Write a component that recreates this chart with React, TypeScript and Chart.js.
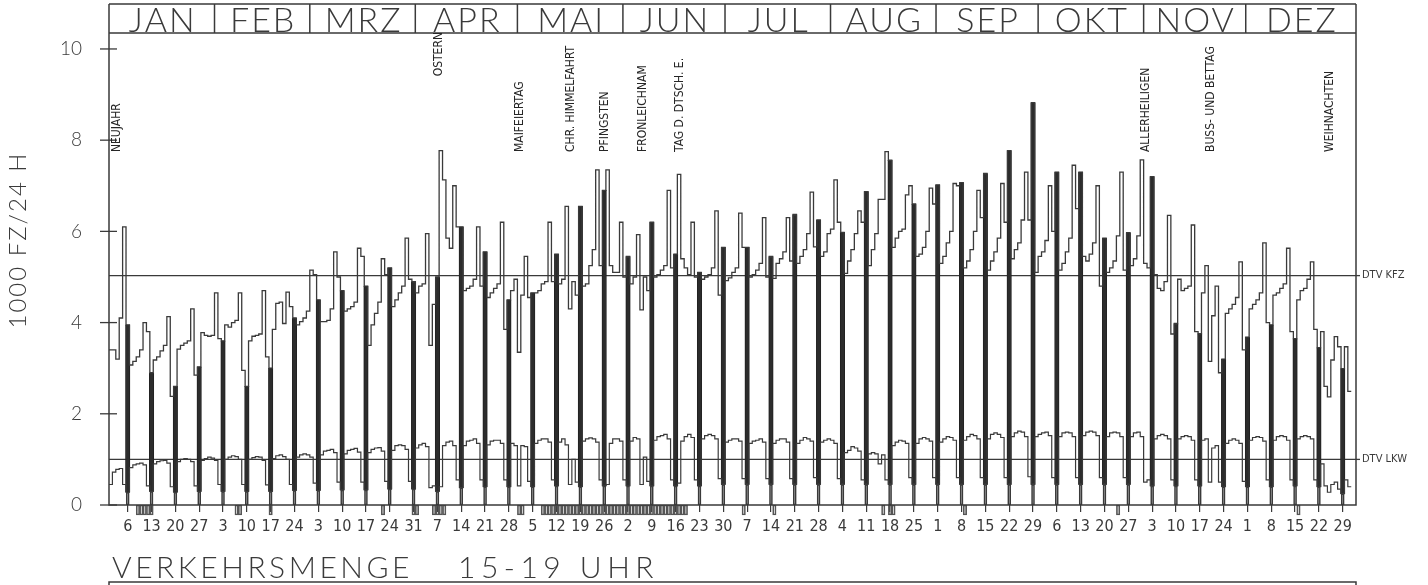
import React, { useEffect, useRef } from 'react';
import { Chart, registerables } from 'chart.js';

Chart.register(...registerables);

// ---------- calendar / labels ----------
const MONTHS = ['JAN', 'FEB', 'MRZ', 'APR', 'MAI', 'JUN', 'JUL', 'AUG', 'SEP', 'OKT', 'NOV', 'DEZ'];
const MONTH_DAYS = [31, 28, 31, 30, 31, 30, 31, 31, 30, 31, 30, 31];
const FIRST_SUNDAY = 5; // 6 Jan 1985, 0-based day index
const SUNDAY_LABELS = [
  '6', '13', '20', '27', '3', '10', '17', '24', '3', '10', '17', '24', '31',
  '7', '14', '21', '28', '5', '12', '19', '26', '2', '9', '16', '23', '30',
  '7', '14', '21', '28', '4', '11', '18', '25', '1', '8', '15', '22', '29',
  '6', '13', '20', '27', '3', '10', '17', '24', '1', '8', '15', '22', '29',
];
const Y_TICKS = [0, 2, 4, 6, 8, 10];
const Y_TITLE = '1000 FZ/24 H';
const TITLE_MAIN = 'VERKEHRSMENGE';
const TITLE_TIME = '15-19 UHR';

// ---------- daily values, 1000 vehicles (KFZ = all vehicles, LKW = trucks) ----------
const KFZ_JAN = [3.4, 3.4, 3.2, 4.1, 6.1, 3.95, 3.07, 3.15, 3.25, 3.4, 4.0, 3.8, 2.9, 3.18, 3.25, 3.38, 3.5, 4.13, 2.38, 2.6, 3.42, 3.5, 3.55, 3.6, 4.3, 2.85, 3.03, 3.78, 3.72, 3.7, 3.72];
const KFZ_FEB = [4.65, 3.65, 3.6, 3.95, 3.9, 4.0, 4.05, 4.65, 2.95, 2.6, 3.6, 3.7, 3.72, 3.75, 4.7, 3.25, 3.0, 3.85, 4.42, 4.45, 3.98, 4.67, 4.35, 4.1, 3.95, 4.02, 4.1, 4.25];
const KFZ_MRZ = [5.15, 5.05, 4.5, 4.02, 4.02, 4.05, 4.3, 5.55, 5.0, 4.7, 4.25, 4.3, 4.35, 4.45, 5.63, 5.45, 4.8, 3.5, 3.95, 4.2, 4.45, 5.4, 5.05, 5.2, 4.35, 4.5, 4.65, 4.8, 5.85, 4.95, 4.9];
const KFZ_APR = [4.65, 4.8, 4.85, 5.95, 3.5, 4.4, 5.0, 7.77, 7.13, 5.85, 5.63, 7.0, 6.1, 6.1, 4.7, 4.75, 4.8, 4.95, 6.1, 4.8, 5.55, 4.55, 4.65, 4.75, 4.85, 6.2, 3.85, 4.5, 4.7, 4.95];
const KFZ_MAI = [3.35, 4.6, 5.45, 4.55, 4.65, 4.65, 4.7, 4.85, 4.9, 6.2, 4.9, 5.5, 4.85, 4.95, 6.55, 4.3, 4.9, 4.6, 6.55, 4.8, 4.85, 5.25, 5.6, 7.35, 5.25, 6.9, 7.35, 5.25, 5.1, 5.1, 6.2];
const KFZ_JUN = [5.0, 5.45, 4.85, 5.0, 5.93, 4.28, 5.0, 4.7, 6.2, 5.0, 5.05, 5.15, 5.25, 6.9, 5.2, 5.5, 7.25, 5.4, 5.2, 5.05, 6.2, 5.0, 5.1, 4.95, 5.0, 5.05, 5.2, 6.45, 4.6, 5.65];
const KFZ_JUL = [4.92, 4.98, 5.1, 5.2, 6.4, 5.65, 5.65, 5.0, 5.05, 5.15, 5.3, 6.3, 5.0, 5.45, 4.97, 5.3, 5.4, 5.55, 6.3, 5.35, 6.37, 5.3, 5.45, 5.6, 5.95, 6.86, 5.66, 6.25, 5.45, 5.55, 5.95];
const KFZ_AUG = [6.05, 7.13, 6.2, 5.98, 5.08, 5.35, 5.6, 5.95, 6.45, 6.2, 6.87, 5.25, 5.6, 5.95, 6.7, 6.7, 7.75, 7.56, 5.65, 5.85, 6.0, 6.05, 6.8, 7.0, 6.6, 5.45, 5.5, 5.65, 6.0, 6.95, 6.6];
const KFZ_SEP = [7.02, 5.3, 5.45, 5.75, 6.0, 7.05, 7.0, 7.07, 5.2, 5.35, 5.6, 6.0, 6.9, 6.3, 7.27, 5.15, 5.35, 5.55, 5.85, 7.05, 6.2, 7.77, 5.4, 5.6, 5.75, 6.25, 7.3, 6.25, 8.82, 5.1];
const KFZ_OKT = [5.45, 5.55, 5.8, 7.0, 6.0, 7.3, 5.15, 5.3, 5.55, 5.85, 7.45, 6.5, 7.3, 5.45, 5.35, 5.5, 5.75, 7.0, 4.8, 5.85, 5.1, 5.2, 5.35, 5.9, 7.3, 5.15, 5.97, 5.25, 5.4, 5.9, 7.57];
const KFZ_NOV = [5.3, 5.2, 7.2, 5.05, 4.75, 4.7, 4.9, 6.35, 3.75, 3.98, 4.95, 4.7, 4.75, 4.8, 6.14, 3.8, 3.76, 4.65, 5.25, 3.15, 4.15, 4.8, 2.9, 3.2, 4.2, 4.3, 4.4, 4.55, 5.33, 3.4];
const KFZ_DEZ = [3.68, 4.3, 4.4, 4.5, 4.65, 5.75, 4.0, 3.95, 4.6, 4.65, 4.75, 4.85, 5.63, 3.8, 3.65, 4.5, 4.7, 4.75, 4.95, 5.33, 3.85, 3.45, 3.8, 2.6, 2.37, 3.18, 3.69, 3.47, 2.99, 3.47, 2.49];

const LKW_JAN = [0.45, 0.72, 0.78, 0.8, 0.45, 0.28, 0.82, 0.88, 0.9, 0.92, 0.88, 0.42, 0.3, 0.9, 0.95, 0.97, 0.98, 0.92, 0.4, 0.28, 0.95, 1.0, 1.02, 1.0, 0.95, 0.42, 0.3, 0.98, 1.02, 1.05, 1.03];
const LKW_FEB = [0.98, 0.45, 0.3, 1.0, 1.05, 1.08, 1.06, 1.0, 0.45, 0.3, 1.0, 1.04, 1.06, 1.05, 0.98, 0.44, 0.3, 1.02, 1.08, 1.1, 1.06, 1.0, 0.45, 0.32, 1.05, 1.1, 1.12, 1.1];
const LKW_MRZ = [1.05, 0.48, 0.32, 1.1, 1.18, 1.2, 1.22, 1.15, 0.5, 0.33, 1.12, 1.2, 1.22, 1.24, 1.16, 0.5, 0.33, 1.15, 1.22, 1.25, 1.26, 1.18, 0.52, 0.35, 1.2, 1.3, 1.32, 1.3, 1.22, 0.52, 0.35];
const LKW_APR = [1.25, 1.32, 1.35, 1.28, 0.38, 0.42, 0.3, 0.4, 1.3, 1.38, 1.4, 1.3, 0.55, 0.38, 1.3, 1.4, 1.42, 1.45, 1.35, 0.55, 0.4, 1.32, 1.4, 1.42, 1.42, 1.35, 0.55, 0.4, 1.35, 1.3];
const LKW_MAI = [0.42, 1.3, 1.28, 0.52, 0.4, 1.35, 1.42, 1.45, 1.45, 1.38, 0.55, 0.42, 1.38, 1.45, 1.32, 0.45, 1.0, 0.5, 0.4, 1.4, 1.45, 1.47, 1.45, 1.38, 0.55, 0.42, 0.45, 1.35, 1.45, 1.45, 1.4];
const LKW_JUN = [0.55, 0.42, 1.4, 1.48, 1.45, 0.45, 1.05, 0.52, 0.42, 1.42, 1.5, 1.52, 1.55, 1.45, 0.55, 0.42, 0.48, 1.4, 1.5, 1.55, 1.48, 0.55, 0.42, 1.45, 1.52, 1.55, 1.52, 1.45, 0.58, 0.45];
const LKW_JUL = [1.38, 1.42, 1.45, 1.45, 1.4, 0.58, 0.45, 1.35, 1.4, 1.42, 1.45, 1.38, 0.58, 0.45, 1.35, 1.42, 1.45, 1.45, 1.38, 0.58, 0.45, 1.35, 1.42, 1.48, 1.45, 1.4, 0.6, 0.45, 1.38, 1.42, 1.45];
const LKW_AUG = [1.42, 1.35, 0.58, 0.45, 1.15, 1.2, 1.28, 1.25, 1.18, 0.55, 0.45, 1.12, 1.15, 1.12, 0.9, 1.1, 0.55, 0.45, 1.3, 1.38, 1.42, 1.4, 1.35, 0.6, 0.45, 1.35, 1.45, 1.48, 1.45, 1.4, 0.6];
const LKW_SEP = [0.45, 1.38, 1.45, 1.5, 1.48, 1.42, 0.6, 0.45, 1.42, 1.5, 1.55, 1.52, 1.45, 0.6, 0.45, 1.45, 1.55, 1.58, 1.55, 1.48, 0.6, 0.45, 1.5, 1.58, 1.62, 1.6, 1.5, 0.62, 0.45, 1.5];
const LKW_OKT = [1.55, 1.58, 1.6, 1.52, 0.6, 0.45, 1.5, 1.58, 1.6, 1.58, 1.5, 0.6, 0.45, 1.52, 1.6, 1.62, 1.6, 1.52, 0.6, 0.45, 1.5, 1.58, 1.6, 1.58, 1.5, 0.6, 0.45, 1.5, 1.58, 1.6, 1.5];
const LKW_NOV = [0.5, 0.55, 0.42, 1.45, 1.52, 1.55, 1.52, 1.45, 0.55, 0.42, 1.45, 1.5, 1.52, 1.5, 1.42, 0.55, 0.42, 1.42, 1.45, 0.5, 1.25, 1.3, 0.5, 0.4, 1.35, 1.42, 1.45, 1.42, 1.35, 0.52];
const LKW_DEZ = [0.4, 1.42, 1.48, 1.5, 1.48, 1.4, 0.55, 0.4, 1.42, 1.5, 1.52, 1.5, 1.42, 0.55, 0.42, 1.45, 1.5, 1.52, 1.5, 1.45, 0.55, 0.4, 0.9, 0.42, 0.28, 0.45, 0.5, 0.35, 0.25, 0.55, 0.4];

// annual averages (DTV)
const DTV_KFZ = 5.03;
const DTV_LKW = 1.0;

// days flagged below the axis (0-based day index)
const MARKED_DAYS = [
  8, 9, 10, 11, 12, 37, 38, 47, 80, 89, 90, 95, 96, 97, 98, 120, 121,
  127, 128, 129, 130, 131, 132, 133, 134, 135, 136, 137, 138, 139, 140, 141, 142, 143, 144, 145,
  146, 147, 148, 149, 150, 151, 152, 153, 154, 155, 156, 157, 158, 159, 160, 161, 162, 163, 164,
  165, 166, 167, 168, 169, 186, 195, 227, 229, 230, 251, 296, 349,
];

// public holidays (0-based day index)
const HOLIDAY_NAMES = ['NEUJAHR', 'OSTERN', 'MAIFEIERTAG', 'CHR. HIMMELFAHRT', 'PFINGSTEN', 'FRONLEICHNAM', 'TAG D. DTSCH. E.', 'ALLERHEILIGEN', 'BUSS- UND BETTAG', 'WEIHNACHTEN'];
const HOLIDAY_DAYS = [0, 96, 120, 135, 145, 156, 167, 304, 323, 358];

const KFZ = [...KFZ_JAN, ...KFZ_FEB, ...KFZ_MRZ, ...KFZ_APR, ...KFZ_MAI, ...KFZ_JUN, ...KFZ_JUL, ...KFZ_AUG, ...KFZ_SEP, ...KFZ_OKT, ...KFZ_NOV, ...KFZ_DEZ];
const LKW = [...LKW_JAN, ...LKW_FEB, ...LKW_MRZ, ...LKW_APR, ...LKW_MAI, ...LKW_JUN, ...LKW_JUL, ...LKW_AUG, ...LKW_SEP, ...LKW_OKT, ...LKW_NOV, ...LKW_DEZ];

// ---------- layout / style ----------
const INK = '#3a3a3a';
const X_MAX = 366.4;
const Y_MAX = 10.35;
const HEADER_H = 29;
const MARK_DEPTH = 0.22;
const HOLIDAY_ANCHOR = 7.74;
const HOLIDAY_ANCHOR_OSTERN = 9.4;
const LIGHT = 'Lato, "Open Sans", "DejaVu Sans", sans-serif';
const NARROW = '"Liberation Sans Narrow", "DejaVu Sans Condensed", "Liberation Sans", sans-serif';
const COND = '"DejaVu Sans Condensed", "Liberation Sans Narrow", sans-serif';

const SUNDAYS = KFZ.map((_, d) => d).filter((d) => d >= FIRST_SUNDAY && (d - FIRST_SUNDAY) % 7 === 0);

function stepPoints(values: number[]) {
  const pts = values.map((v, d) => ({ x: d, y: v }));
  pts.push({ x: values.length, y: values[values.length - 1] });
  return pts;
}

const decorPlugin = {
  id: 'decor',
  afterDraw(chart: any) {
    const { ctx, chartArea, scales } = chart;
    const { left, right, top, bottom } = chartArea;
    const xs = scales.x;
    const ys = scales.y;
    const headTop = top - HEADER_H;
    ctx.save();
    ctx.strokeStyle = INK;
    ctx.fillStyle = INK;
    ctx.lineWidth = 1.5;

    // frame + header
    ctx.beginPath();
    ctx.moveTo(left, headTop); ctx.lineTo(right, headTop);
    ctx.moveTo(left, top); ctx.lineTo(right, top);
    ctx.moveTo(left, headTop); ctx.lineTo(left, bottom); ctx.lineTo(right, bottom); ctx.lineTo(right, headTop);
    ctx.stroke();

    ctx.font = `300 34px ${LIGHT}`;
    ctx.textAlign = 'center';
    ctx.textBaseline = 'alphabetic';
    (ctx as any).letterSpacing = '2px';
    let start = 0;
    MONTHS.forEach((m, i) => {
      const end = start + MONTH_DAYS[i];
      const x0 = xs.getPixelForValue(start);
      const x1 = i === MONTHS.length - 1 ? right : xs.getPixelForValue(end);
      if (i > 0) {
        ctx.beginPath(); ctx.moveTo(x0, headTop); ctx.lineTo(x0, top); ctx.stroke();
      }
      ctx.fillText(m, (x0 + x1) / 2 + 1, top - 1.5);
      start = end;
    });

    // y tick crosses
    ctx.lineWidth = 1.3;
    Y_TICKS.forEach((v) => {
      const py = ys.getPixelForValue(v);
      ctx.beginPath(); ctx.moveTo(left - 9, py); ctx.lineTo(left + 8, py); ctx.stroke();
    });

    // DTV labels
    (ctx as any).letterSpacing = '0px';
    ctx.font = `11px ${COND}`;
    ctx.textAlign = 'left';
    ctx.textBaseline = 'middle';
    [[DTV_KFZ, 'DTV KFZ'], [DTV_LKW, 'DTV LKW']].forEach(([v, t]) => {
      const py = ys.getPixelForValue(v as number);
      ctx.beginPath(); ctx.moveTo(right, py); ctx.lineTo(right + 4, py); ctx.stroke();
      ctx.fillText(t as string, right + 6, py);
    });

    // holiday labels
    ctx.font = `12px ${COND}`;
    ctx.fillStyle = '#262626';
    HOLIDAY_NAMES.forEach((name, i) => {
      const px = Math.max(xs.getPixelForValue(HOLIDAY_DAYS[i] + 0.5), left + 7);
      const anchor = name === 'OSTERN' ? HOLIDAY_ANCHOR_OSTERN : HOLIDAY_ANCHOR;
      const py = ys.getPixelForValue(anchor);
      ctx.save();
      ctx.translate(px + 1, py);
      ctx.rotate(-Math.PI / 2);
      ctx.textAlign = 'left';
      ctx.textBaseline = 'middle';
      ctx.fillText(name, 0, 0);
      ctx.restore();
    });

    // y title
    ctx.fillStyle = INK;
    ctx.save();
    ctx.font = `300 24px ${LIGHT}`;
    (ctx as any).letterSpacing = '2px';
    ctx.translate(18, (top + bottom) / 2 - 29);
    ctx.rotate(-Math.PI / 2);
    ctx.textAlign = 'center';
    ctx.textBaseline = 'middle';
    ctx.fillText(Y_TITLE, 0, 0);
    ctx.restore();

    // bottom title
    ctx.font = `300 30px ${LIGHT}`;
    ctx.textAlign = 'left';
    ctx.textBaseline = 'alphabetic';
    (ctx as any).letterSpacing = '3.5px';
    ctx.fillText(TITLE_MAIN, left + 3, 578);
    (ctx as any).letterSpacing = '5.5px';
    ctx.fillText(TITLE_TIME, left + 349, 578);
    (ctx as any).letterSpacing = '0px';

    ctx.lineWidth = 1.5;
    ctx.beginPath();
    ctx.moveTo(left, 586); ctx.lineTo(left, 582); ctx.lineTo(right, 582); ctx.lineTo(right, 586);
    ctx.stroke();
    ctx.restore();
  },
};

export default function App() {
  const ref = useRef<HTMLCanvasElement | null>(null);

  useEffect(() => {
    if (!ref.current) return;
    const chart = new Chart(ref.current, {
      type: 'bar',
      data: {
        datasets: [
          {
            type: 'line', label: 'KFZ', data: stepPoints(KFZ), stepped: true,
            borderColor: INK, borderWidth: 1.3, pointRadius: 0, fill: false, order: 1,
          } as any,
          {
            type: 'line', label: 'LKW', data: stepPoints(LKW), stepped: true,
            borderColor: INK, borderWidth: 1.2, pointRadius: 0, fill: false, order: 2,
          } as any,
          {
            type: 'bar', label: 'KFZ Sonntag',
            data: SUNDAYS.map((d) => ({ x: d + 0.5, y: [LKW[d], KFZ[d]] })),
            backgroundColor: '#2c2c2c', borderColor: '#222', borderWidth: 1, borderSkipped: false,
            barThickness: 4.5, grouped: false, order: 4,
          } as any,
          {
            type: 'bar', label: 'LKW Sonntag',
            data: SUNDAYS.map((d) => ({ x: d + 0.5, y: [0, LKW[d]] })),
            backgroundColor: 'rgba(0,0,0,0)', borderColor: INK, borderWidth: 1, borderSkipped: false,
            barThickness: 3, grouped: false, order: 3,
          } as any,
          {
            type: 'bar', label: 'markiert',
            data: MARKED_DAYS.map((d) => ({ x: d + 0.5, y: [-MARK_DEPTH, 0] })),
            backgroundColor: 'rgba(0,0,0,0)', borderColor: '#555', borderWidth: 1, borderSkipped: false,
            barThickness: 3.4, grouped: false, clip: false, order: 0,
          } as any,
          {
            type: 'line', label: 'DTV KFZ', data: [{ x: 0, y: DTV_KFZ }, { x: X_MAX, y: DTV_KFZ }],
            borderColor: INK, borderWidth: 1.1, pointRadius: 0, order: 5,
          } as any,
          {
            type: 'line', label: 'DTV LKW', data: [{ x: 0, y: DTV_LKW }, { x: X_MAX, y: DTV_LKW }],
            borderColor: INK, borderWidth: 1.1, pointRadius: 0, order: 5,
          } as any,
        ],
      },
      options: {
        responsive: false,
        animation: false,
        devicePixelRatio: 1,
        events: [],
        layout: { padding: { left: 0, right: 72, top: 33, bottom: 0 } },
        plugins: { legend: { display: false }, tooltip: { enabled: false }, title: { display: false } },
        scales: {
          x: {
            type: 'linear', min: 0, max: X_MAX, offset: false,
            afterBuildTicks: (axis: any) => { axis.ticks = SUNDAYS.map((d) => ({ value: d + 0.5 })); },
            afterFit: (axis: any) => { axis.height = 80; },
            ticks: {
              autoSkip: false, maxRotation: 0, minRotation: 0, padding: 5, color: INK,
              font: { family: NARROW, size: 16 },
              callback: (_v: any, i: number) => SUNDAY_LABELS[i],
            },
            grid: { display: true, offset: false, drawOnChartArea: false, drawTicks: true, tickLength: 7, color: INK, lineWidth: 1.2 },
            border: { display: false },
          },
          y: {
            type: 'linear', min: 0, max: Y_MAX,
            afterBuildTicks: (axis: any) => { axis.ticks = Y_TICKS.map((v) => ({ value: v })); },
            afterFit: (axis: any) => { axis.width = 109; },
            ticks: { padding: 19, color: INK, font: { family: LIGHT, size: 19, weight: '300' } },
            grid: { display: false },
            border: { display: false },
          },
        },
      } as any,
      plugins: [decorPlugin],
    });
    return () => chart.destroy();
  }, []);

  return (
    <canvas
      ref={ref}
      width={1428}
      height={585}
      style={{ position: 'absolute', left: 0, top: 0, background: '#fff' }}
    />
  );
}
